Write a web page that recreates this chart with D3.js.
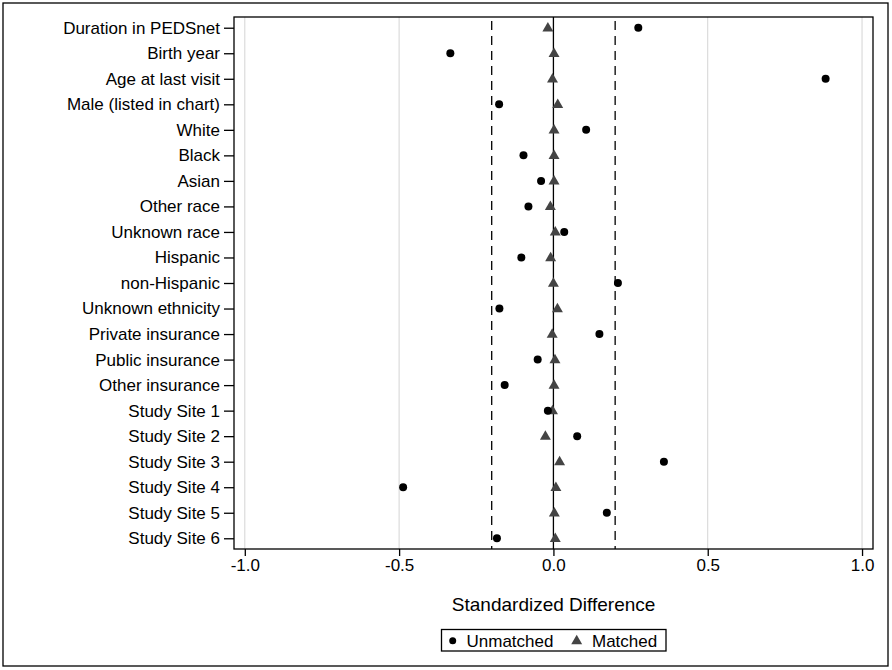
<!DOCTYPE html>
<html><head><meta charset="utf-8">
<script src="https://cdn.jsdelivr.net/npm/d3@7"></script>
<style>body{margin:0;background:#fff;} svg{display:block;font-family:"Liberation Sans",Arial,sans-serif;}</style>
</head><body>
<svg id="c" width="892" height="670"></svg>
<script>
const categories = ["Duration in PEDSnet","Birth year","Age at last visit","Male (listed in chart)","White","Black","Asian","Other race","Unknown race","Hispanic","non-Hispanic","Unknown ethnicity","Private insurance","Public insurance","Other insurance","Study Site 1","Study Site 2","Study Site 3","Study Site 4","Study Site 5","Study Site 6"];
const unmatched = [0.275,-0.334,0.882,-0.176,0.106,-0.097,-0.040,-0.081,0.035,-0.104,0.209,-0.175,0.149,-0.051,-0.158,-0.018,0.077,0.358,-0.487,0.173,-0.183];
const matched = [-0.018,0.002,-0.003,0.014,0.002,0.002,0.002,-0.010,0.006,-0.009,0.000,0.013,-0.004,0.005,0.002,-0.003,-0.026,0.020,0.008,0.003,0.006];
const xTicks = [-1.0,-0.5,0.0,0.5,1.0];
const refLines = [-0.2,0.2];
const seriesNames = ["Unmatched","Matched"];

const svg = d3.select("#c");
const L=234, R=873, T=17, B=549;
const x = d3.scaleLinear().domain([-1.035,1.0355]).range([L,R]);
const y = d3.scalePoint().domain(categories).range([T,B]).padding(0.42);
const FONT = "Liberation Sans, Arial, sans-serif";

// outer frame
svg.append("rect").attr("x",3).attr("y",3).attr("width",885).attr("height",663)
  .attr("fill","none").attr("stroke","#000").attr("stroke-width",1.3);

// grid
svg.append("g").selectAll("line").data(xTicks.filter(d=>d!==0)).join("line")
  .attr("x1",d=>x(d)).attr("x2",d=>x(d)).attr("y1",T).attr("y2",B)
  .attr("stroke","#d4d4d4").attr("stroke-width",1);

// reference dashed lines
svg.append("g").selectAll("line").data(refLines).join("line")
  .attr("x1",d=>x(d)).attr("x2",d=>x(d)).attr("y1",T).attr("y2",B)
  .attr("stroke","#000").attr("stroke-width",1.3).attr("stroke-dasharray","9,6")
  .attr("stroke-dashoffset",-4);
// zero line
svg.append("line").attr("x1",x(0)).attr("x2",x(0)).attr("y1",T).attr("y2",B)
  .attr("stroke","#000").attr("stroke-width",1.3);

// axes
const xAxis = d3.axisBottom(x).tickValues(xTicks).tickFormat(d=>d3.format(".1f")(d).replace("−","-")).tickSize(7).tickSizeOuter(0).tickPadding(3);
const gx = svg.append("g").attr("transform",`translate(0,${B})`).call(xAxis);
gx.select(".domain").remove();
gx.selectAll("line").attr("stroke","#000").attr("stroke-width",1.3);
gx.selectAll("text").attr("font-size",17).attr("fill","#000").attr("font-family",FONT);

const yAxis = d3.axisLeft(y).tickSize(10).tickSizeOuter(0).tickPadding(4);
const gy = svg.append("g").attr("transform",`translate(${L},0)`).call(yAxis);
gy.select(".domain").remove();
gy.selectAll("line").attr("stroke","#000").attr("stroke-width",1.3);
gy.selectAll("text").attr("font-size",17).attr("fill","#000").attr("font-family",FONT);

// plot frame
svg.append("rect").attr("x",L).attr("y",T).attr("width",R-L).attr("height",B-T)
  .attr("fill","none").attr("stroke","#000").attr("stroke-width",1.3);

// matched triangles
const tri = d3.symbol().type(d3.symbolTriangle).size(52);
svg.append("g").selectAll("path").data(matched).join("path")
  .attr("d",tri).attr("transform",(d,i)=>`translate(${x(d)},${y(categories[i])+0.5})`)
  .attr("fill","#444");
// unmatched circles
svg.append("g").selectAll("circle").data(unmatched).join("circle")
  .attr("cx",d=>x(d)).attr("cy",(d,i)=>y(categories[i])).attr("r",4).attr("fill","#000");

// x title
svg.append("text").attr("x",553.6).attr("y",611).attr("text-anchor","middle")
  .attr("font-size",19).text("Standardized Difference");

// legend
const lg = svg.append("g");
lg.append("rect").attr("x",441.5).attr("y",629.5).attr("width",224.5).attr("height",21.5)
  .attr("fill","none").attr("stroke","#000").attr("stroke-width",1.3);
lg.append("circle").attr("cx",452.7).attr("cy",640.7).attr("r",3.5).attr("fill","#000");
lg.append("text").attr("x",466.5).attr("y",646.7).attr("font-size",17).text(seriesNames[0]);
lg.append("path").attr("d",tri).attr("transform","translate(576.7,641)").attr("fill","#444");
lg.append("text").attr("x",592).attr("y",646.7).attr("font-size",17).text(seriesNames[1]);
</script>
</body></html>
